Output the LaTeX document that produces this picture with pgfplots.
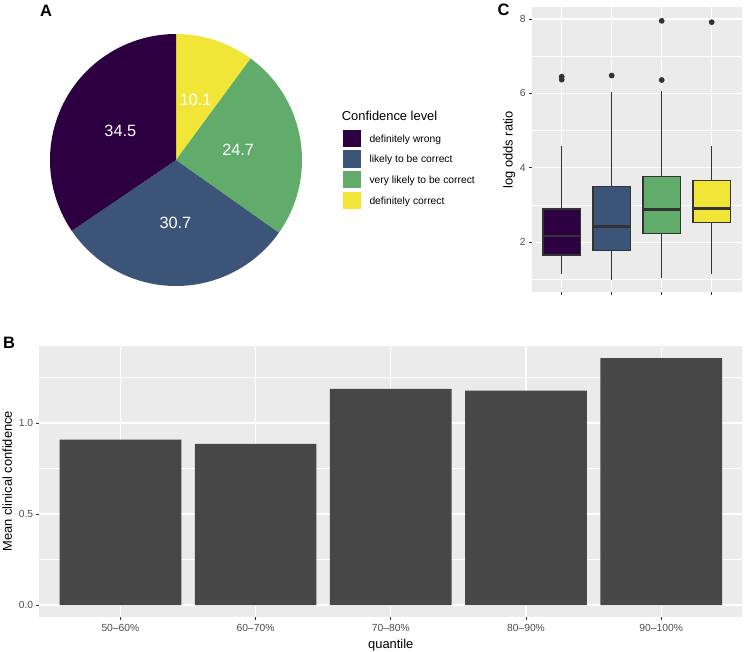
\documentclass[border=0pt]{standalone}
\usepackage{fontspec}
\setmainfont{Liberation Sans}
\usepackage{pgfplots}
\pgfplotsset{compat=1.18}
\usepgfplotslibrary{statistics}
\definecolor{vpurple}{HTML}{2D0041}
\definecolor{vblue}{HTML}{3D5479}
\definecolor{vgreen}{HTML}{62AC6B}
\definecolor{vyellow}{HTML}{F1E637}
\definecolor{panelbg}{HTML}{EBEBEB}
\definecolor{barfill}{HTML}{474747}
\definecolor{tickcol}{HTML}{333333}
\definecolor{ticklab}{HTML}{4D4D4D}
\newcommand{\ticksize}{\fontsize{10.3bp}{12bp}\selectfont}
\newcommand{\titlesize}{\fontsize{12.9bp}{15bp}\selectfont}
\newcommand{\tagsize}{\fontsize{16.5bp}{19bp}\selectfont\bfseries}
\newcommand{\pielab}{\fontsize{16.3bp}{19bp}\selectfont}
% pie data (percent): definitely wrong, likely, very likely, definitely correct
\def\pWrong{34.5}\def\pLikely{30.7}\def\pVery{24.7}\def\pCorrect{10.1}
\pgfplotsset{ggstyle/.style={
  scale only axis,
  axis background/.style={fill=panelbg},
  axis x line*=bottom, axis y line*=left,
  axis line style={draw=none,-},
  tick align=outside,
  major tick length=3bp,
  minor tick length=0pt,
  tick style={color=tickcol, line width=0.9bp},
  grid=both,
  major grid style={white, line width=1.1bp},
  minor grid style={white, line width=0.55bp},
  tick label style={font=\ticksize, color=ticklab, inner sep=0pt},
  xticklabel style={yshift=-4.7bp},
  yticklabel style={xshift=-3bp},
  label style={font=\titlesize, inner sep=0pt},
  /pgf/number format/assume math mode=true,
}}
\begin{document}
\begin{tikzpicture}
\useasboundingbox (0,0) rectangle (744bp,-652bp);
% ---------- Panel A: pie ----------
\pgfmathsetmacro{\aA}{90}
\pgfmathsetmacro{\aB}{90-3.6*\pCorrect}
\pgfmathsetmacro{\aC}{\aB-3.6*\pVery}
\pgfmathsetmacro{\aD}{\aC-3.6*\pLikely}
\pgfmathsetmacro{\aE}{\aD-3.6*\pWrong}
\begin{axis}[at={(50bp,-34bp)}, anchor=north west, width=252bp, height=252bp,
  scale only axis, xmin=-1, xmax=1, ymin=-1, ymax=1, hide axis, clip=false]
\addplot[draw=none, forget plot] coordinates {(0,0)};
\fill[vyellow] (axis cs:0,0) -- ++(\aA:126bp) arc[start angle=\aA, end angle=\aB, radius=126bp] -- cycle;
\fill[vgreen] (axis cs:0,0) -- ++(\aB:126bp) arc[start angle=\aB, end angle=\aC, radius=126bp] -- cycle;
\fill[vblue] (axis cs:0,0) -- ++(\aC:126bp) arc[start angle=\aC, end angle=\aD, radius=126bp] -- cycle;
\fill[vpurple] (axis cs:0,0) -- ++(\aD:126bp) arc[start angle=\aD, end angle=\aE, radius=126bp] -- cycle;
\path (axis cs:0,0) ++({(\aA+\aB)/2}:63bp) node[white, font=\pielab, inner sep=0pt] {\pCorrect};
\path (axis cs:0,0) ++({(\aB+\aC)/2}:63bp) node[white, font=\pielab, inner sep=0pt] {\pVery};
\path (axis cs:0,0) ++({(\aC+\aD)/2}:63bp) node[white, font=\pielab, inner sep=0pt] {\pLikely};
\path (axis cs:0,0) ++({(\aD+\aE)/2}:63bp) node[white, font=\pielab, inner sep=0pt] {\pWrong};
\end{axis}
% legend
\node[anchor=base west, inner sep=0pt, font=\titlesize] at (341.7bp,-120.5bp) {Confidence level};
\fill[vpurple] (342.7bp,-129.8bp) rectangle ++(18.6bp,-17.3bp);
\fill[vblue]   (342.7bp,-150.4bp) rectangle ++(18.6bp,-17.3bp);
\fill[vgreen]  (342.7bp,-171.0bp) rectangle ++(18.6bp,-17.3bp);
\fill[vyellow] (342.7bp,-191.6bp) rectangle ++(18.6bp,-17.3bp);
\node[anchor=base west, inner sep=0pt, font=\ticksize] at (369.3bp,-142.2bp) {definitely wrong};
\node[anchor=base west, inner sep=0pt, font=\ticksize] at (369.3bp,-162.8bp) {likely to be correct};
\node[anchor=base west, inner sep=0pt, font=\ticksize] at (369.3bp,-183.4bp) {very likely to be correct};
\node[anchor=base west, inner sep=0pt, font=\ticksize] at (369.3bp,-204.0bp) {definitely correct};
% ---------- Panel C: boxplots ----------
\pgfplotsset{boxC/.style={draw=tickcol, line width=1.1bp, solid,
  mark=*, mark size=2.3bp, mark options={solid, fill=tickcol, draw=none}}}
\begin{axis}[ggstyle, at={(531.7bp,-7.3bp)}, anchor=north west, width=210bp, height=285bp,
  xmin=0.4, xmax=4.6, ymin=0.657, ymax=8.314,
  xtick={1,2,3,4}, xticklabels={}, ytick={2,4,6,8}, minor ytick={1,3,5,7},
  ylabel={log odds ratio},
  ylabel style={at={(axis description cs:-0.1067,0.5)}, anchor=center},
  boxplot/draw direction=y,
  boxplot/every median/.style={line width=2.4bp},
  ]
\addplot[boxplot prepared={lower whisker=1.15, lower quartile=1.66, median=2.17,
    upper quartile=2.895, upper whisker=4.60, draw position=1, box extend=0.75, whisker extend=0},
  fill=vpurple, boxC]
  table[row sep=\\, y index=0]{data\\6.45\\6.37\\};
\addplot[boxplot prepared={lower whisker=1.0, lower quartile=1.79, median=2.42,
    upper quartile=3.49, upper whisker=6.03, draw position=2, box extend=0.75, whisker extend=0},
  fill=vblue, boxC]
  table[row sep=\\, y index=0]{data\\6.48\\};
\addplot[boxplot prepared={lower whisker=1.03, lower quartile=2.23, median=2.886,
    upper quartile=3.76, upper whisker=6.06, draw position=3, box extend=0.75, whisker extend=0},
  fill=vgreen, boxC]
  table[row sep=\\, y index=0]{data\\6.36\\7.95\\};
\addplot[boxplot prepared={lower whisker=1.14, lower quartile=2.53, median=2.91,
    upper quartile=3.67, upper whisker=4.60, draw position=4, box extend=0.75, whisker extend=0},
  fill=vyellow, boxC]
  table[row sep=\\, y index=0]{data\\7.915\\};
\end{axis}
% ---------- Panel B: bars ----------
\begin{axis}[ggstyle, at={(39.3bp,-345.7bp)}, anchor=north west, width=703bp, height=271bp,
  xmin=0.4, xmax=5.6, ymin=-0.0643, ymax=1.4247,
  xtick={1,2,3,4,5}, xticklabels={50--60\%,60--70\%,70--80\%,80--90\%,90--100\%},
  ytick={0,0.5,1}, minor ytick={0.25,0.75,1.25},
  yticklabel style={/pgf/number format/fixed, /pgf/number format/precision=1, /pgf/number format/fixed zerofill},
  xlabel={quantile}, ylabel={Mean clinical confidence},
  xlabel style={at={(axis description cs:0.5,-0.104)}, anchor=center},
  ylabel style={at={(axis description cs:-0.0455,0.5)}, anchor=center},
  ybar, bar width=121.7bp,
  ]
\addplot[fill=barfill, draw=none] coordinates {(1,0.908) (2,0.885) (3,1.188) (4,1.178) (5,1.357)};
\end{axis}
% panel tags
\node[font=\tagsize, inner sep=0pt] at (46bp,-10.5bp) {A};
\node[font=\tagsize, inner sep=0pt] at (9.2bp,-342.7bp) {B};
\node[font=\tagsize, inner sep=0pt] at (503.7bp,-10bp) {C};
\end{tikzpicture}
\end{document}
